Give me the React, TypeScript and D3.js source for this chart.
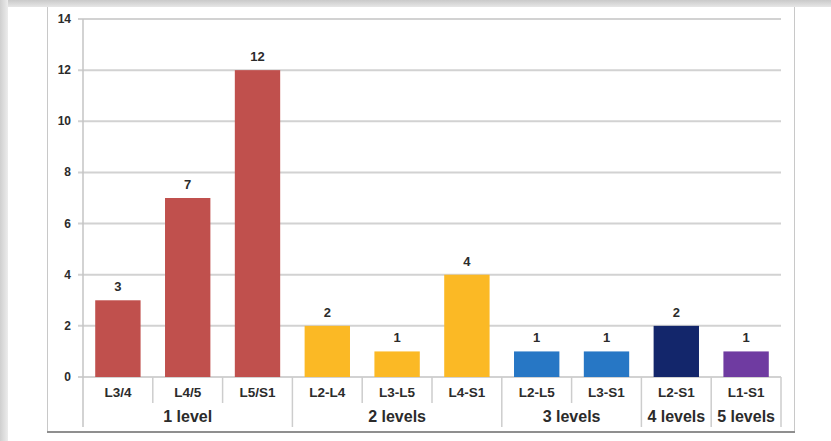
import React from "react";
import * as d3 from "d3";

// Affected segments, grouped by number of levels involved
const categories = ["L3/4", "L4/5", "L5/S1", "L2-L4", "L3-L5", "L4-S1", "L2-L5", "L3-S1", "L2-S1", "L1-S1"];
const counts = [3, 7, 12, 2, 1, 4, 1, 1, 2, 1];
const categoryGroup = ["1 level", "1 level", "1 level", "2 levels", "2 levels", "2 levels", "3 levels", "3 levels", "4 levels", "5 levels"];
const groups = ["1 level", "2 levels", "3 levels", "4 levels", "5 levels"];
const groupColors = ["#c0504d", "#fbb925", "#2777c5", "#13266b", "#6f3ba1"];
const yTicks = [0, 2, 4, 6, 8, 10, 12, 14];

const W = 831;
const H = 441;
const FONT = "'Liberation Sans', Arial, sans-serif";
const TEXT = "#2b2b2b";

export default function App() {
  const plotLeft = 83;
  const plotRight = 781;
  const y = d3.scaleLinear().domain([0, 14]).range([377, 19]);
  const x = d3
    .scaleBand<string>()
    .domain(categories)
    .range([plotLeft, plotRight])
    .paddingInner(0.35)
    .paddingOuter(0.175);
  const step = x.step();
  const color = d3.scaleOrdinal<string, string>().domain(groups).range(groupColors);

  const row1Bottom = 403;
  const row2Bottom = 427;

  // Span of each group along the category axis
  const groupSpans = groups.map((g) => {
    const idx = categories.map((_, i) => i).filter((i) => categoryGroup[i] === g);
    const start = plotLeft + idx[0] * step;
    const end = plotLeft + (idx[idx.length - 1] + 1) * step;
    return { g, start, end };
  });

  return (
    <svg
      width={W}
      height={H}
      style={{ position: "absolute", left: 0, top: 0, background: "#fff" }}
      fontFamily={FONT}
    >
      <defs>
        <linearGradient id="topShade" x1="0" y1="0" x2="0" y2="1">
          <stop offset="0" stopColor="#c9c9c9" />
          <stop offset="1" stopColor="#e6e6e6" />
        </linearGradient>
        <linearGradient id="leftShade" x1="0" y1="0" x2="1" y2="0">
          <stop offset="0" stopColor="#cfcfcf" />
          <stop offset="1" stopColor="#ececec" />
        </linearGradient>
      </defs>

      {/* page surround */}
      <rect x={0} y={0} width={W} height={7} fill="url(#topShade)" />
      <rect x={0} y={0} width={8} height={H} fill="url(#leftShade)" />

      {/* chart frame */}
      <line x1={47.5} y1={7} x2={47.5} y2={432} stroke="#c8c8c8" strokeWidth={1} />
      <line x1={794.5} y1={7} x2={794.5} y2={432} stroke="#c8c8c8" strokeWidth={1} />
      <line x1={47} y1={432} x2={795} y2={432} stroke="#8f8f8f" strokeWidth={2} />

      {/* gridlines and y ticks */}
      {yTicks.map((t) => (
        <g key={t}>
          <line x1={78} x2={plotRight} y1={y(t)} y2={y(t)} stroke="#d2d2d2" strokeWidth={2} />
          <text
            x={71}
            y={y(t)}
            textAnchor="end"
            dominantBaseline="central"
            fontSize={12}
            fontWeight="bold"
            fill={TEXT}
          >
            {t}
          </text>
        </g>
      ))}

      {/* y axis line */}
      <line x1={plotLeft} x2={plotLeft} y1={y(14)} y2={row2Bottom} stroke="#c4c4c4" strokeWidth={1.5} />

      {/* bars */}
      {categories.map((c, i) => (
        <g key={c}>
          <rect
            x={x(c)}
            y={y(counts[i])}
            width={x.bandwidth()}
            height={y(0) - y(counts[i])}
            fill={color(categoryGroup[i])}
          />
          <text
            x={(x(c) as number) + x.bandwidth() / 2}
            y={y(counts[i]) - 9}
            textAnchor="middle"
            fontSize={13}
            fontWeight="bold"
            fill={TEXT}
          >
            {counts[i]}
          </text>
        </g>
      ))}

      {/* category axis: segment row */}
      {categories.map((c, i) => {
        const left = plotLeft + i * step;
        const isGroupStart = i > 0 && categoryGroup[i] !== categoryGroup[i - 1];
        return (
          <g key={"cat-" + c}>
            {i > 0 && (
              <line
                x1={left}
                x2={left}
                y1={y(0)}
                y2={isGroupStart ? row2Bottom : row1Bottom}
                stroke="#cdcdcd"
                strokeWidth={1.5}
              />
            )}
            <text
              x={left + step / 2}
              y={392}
              textAnchor="middle"
              dominantBaseline="central"
              fontSize={13.5}
              fontWeight="bold"
              fill={TEXT}
            >
              {c}
            </text>
          </g>
        );
      })}
      <line x1={plotRight} x2={plotRight} y1={y(0)} y2={row2Bottom} stroke="#cdcdcd" strokeWidth={1.5} />

      {/* category axis: group row */}
      {groupSpans.map((s) => (
        <text
          key={s.g}
          x={(s.start + s.end) / 2}
          y={416}
          textAnchor="middle"
          dominantBaseline="central"
          fontSize={16}
          fontWeight="bold"
          fill={TEXT}
        >
          {s.g}
        </text>
      ))}
    </svg>
  );
}
